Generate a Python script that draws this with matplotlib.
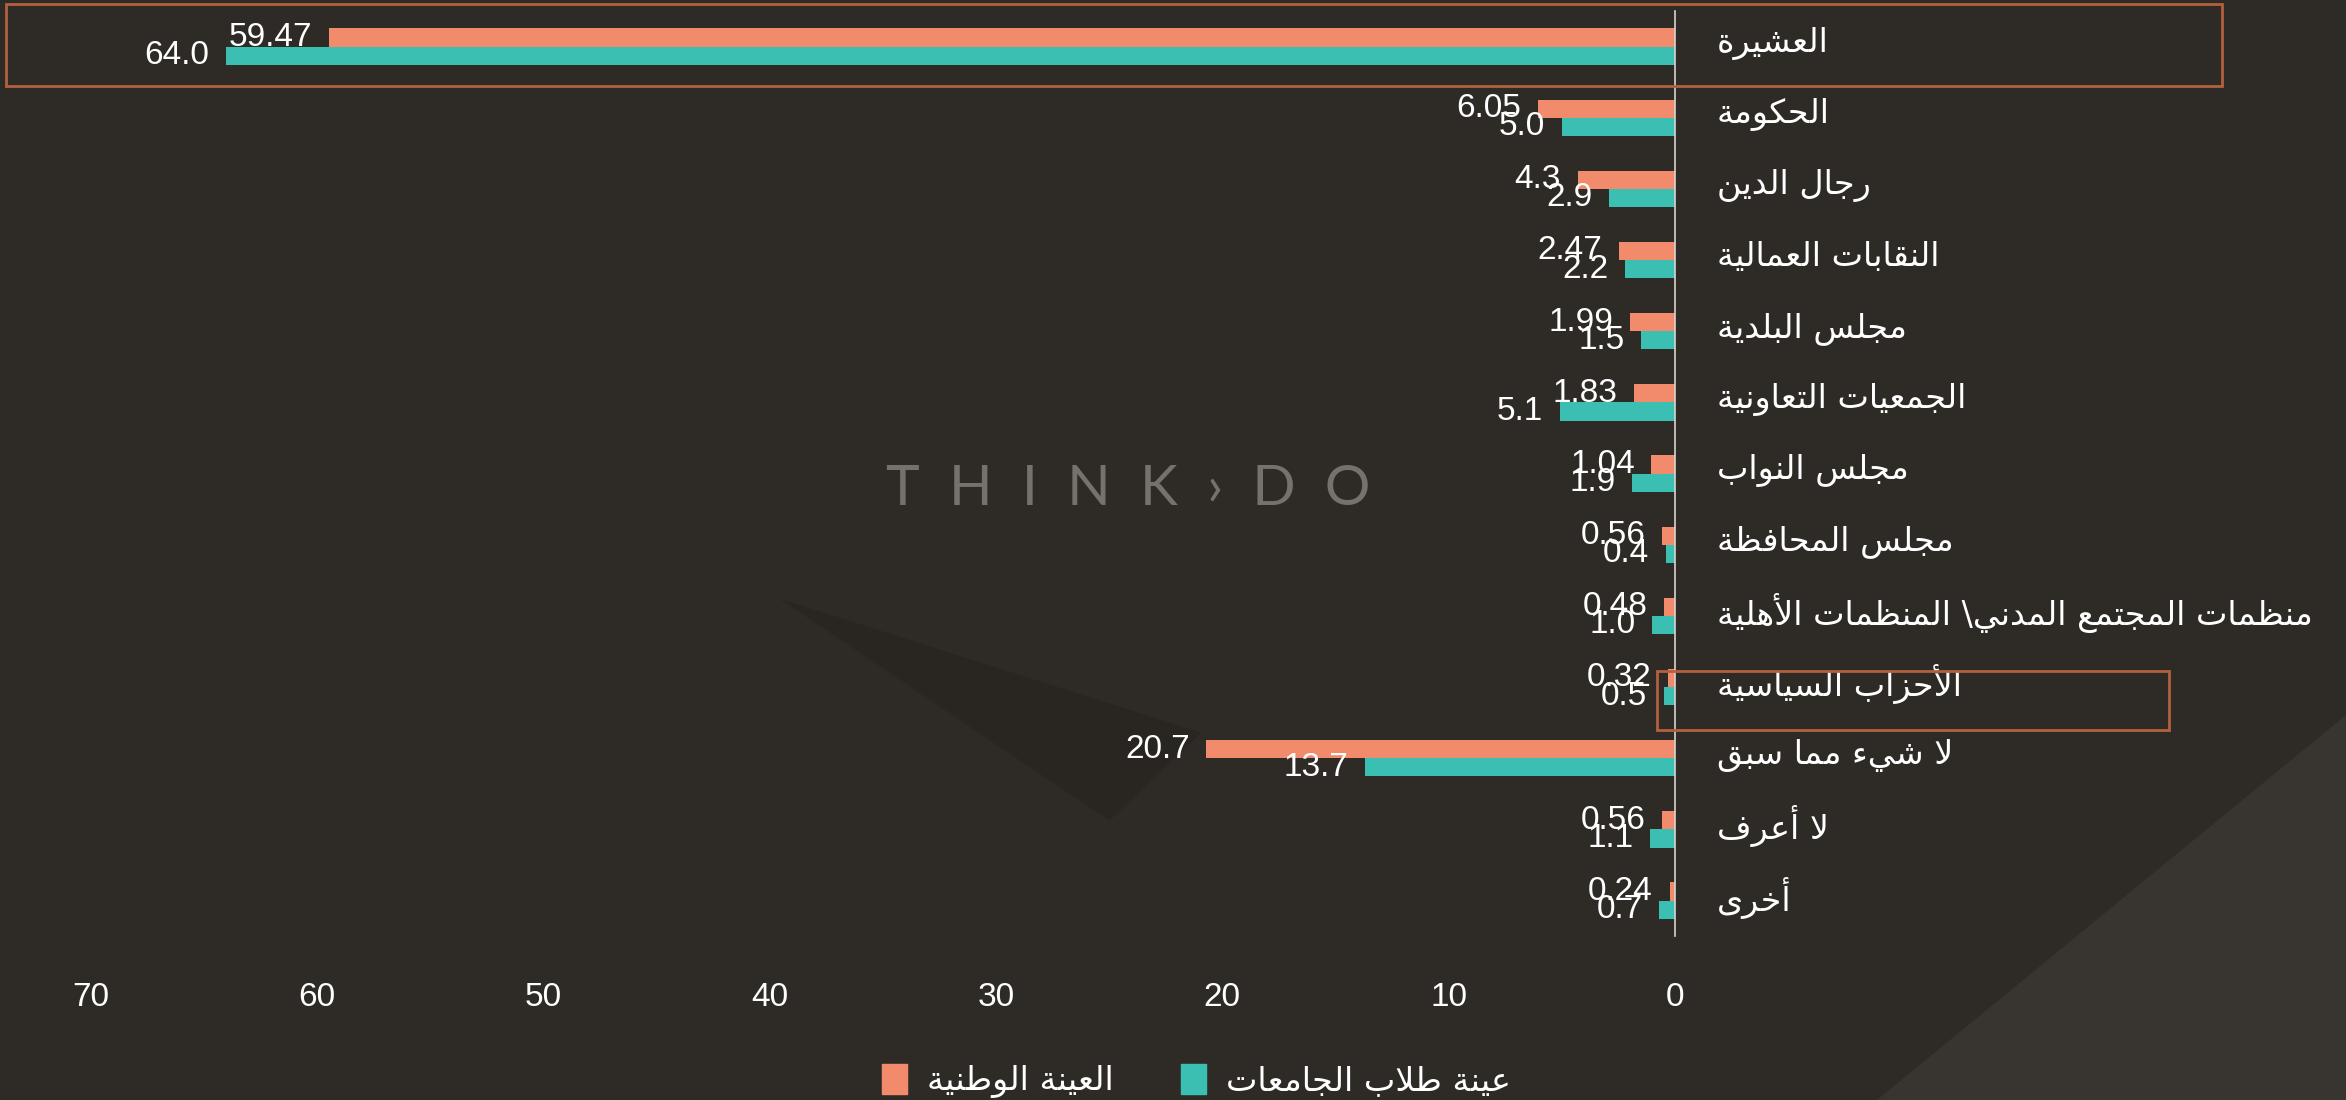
import matplotlib
matplotlib.use('Agg')
import matplotlib.pyplot as plt
from matplotlib.patches import Patch, Rectangle, Polygon
from matplotlib.transforms import blended_transform_factory, ScaledTranslation

categories = ['العشيرة', 'الحكومة', 'رجال الدين', 'النقابات العمالية', 'مجلس البلدية',
              'الجمعيات التعاونية', 'مجلس النواب', 'مجلس المحافظة',
              'منظمات المجتمع المدني\\ المنظمات الأهلية', 'الأحزاب السياسية',
              'لا شيء مما سبق', 'لا أعرف', 'أخرى']
national = [59.47, 6.05, 4.3, 2.47, 1.99, 1.83, 1.04, 0.56, 0.48, 0.32, 20.7, 0.56, 0.24]
students = [64.0, 5.0, 2.9, 2.2, 1.5, 5.1, 1.9, 0.4, 1.0, 0.5, 13.7, 1.1, 0.7]
series_names = ['العينة الوطنية', 'عينة طلاب الجامعات']
xticks = [0, 10, 20, 30, 40, 50, 60, 70]
highlighted = [0, 9]

ORANGE = '#F28B6B'
TEAL = '#3BBFB3'
BG = '#2E2B27'
BOX = '#B4603F'
NUMFONT = ['Liberation Sans', 'DejaVu Sans']

# matplotlib has no arabic shaping, so pick the presentation forms by hand
FORMS = {
    'ء': (0xFE80, 1), 'آ': (0xFE81, 2), 'أ': (0xFE83, 2), 'ؤ': (0xFE85, 2),
    'إ': (0xFE87, 2), 'ئ': (0xFE89, 4), 'ا': (0xFE8D, 2), 'ب': (0xFE8F, 4),
    'ة': (0xFE93, 2), 'ت': (0xFE95, 4), 'ث': (0xFE99, 4), 'ج': (0xFE9D, 4),
    'ح': (0xFEA1, 4), 'خ': (0xFEA5, 4), 'د': (0xFEA9, 2), 'ذ': (0xFEAB, 2),
    'ر': (0xFEAD, 2), 'ز': (0xFEAF, 2), 'س': (0xFEB1, 4), 'ش': (0xFEB5, 4),
    'ص': (0xFEB9, 4), 'ض': (0xFEBD, 4), 'ط': (0xFEC1, 4), 'ظ': (0xFEC5, 4),
    'ع': (0xFEC9, 4), 'غ': (0xFECD, 4), 'ف': (0xFED1, 4), 'ق': (0xFED5, 4),
    'ك': (0xFED9, 4), 'ل': (0xFEDD, 4), 'م': (0xFEE1, 4), 'ن': (0xFEE5, 4),
    'ه': (0xFEE9, 4), 'و': (0xFEED, 2), 'ى': (0xFEEF, 2), 'ي': (0xFEF1, 4),
}
LAM_ALEF = {'آ': 0xFEF5, 'أ': 0xFEF7, 'إ': 0xFEF9, 'ا': 0xFEFB}


def ar(text):
    units = []
    i = 0
    while i < len(text):
        c = text[i]
        if c == 'ل' and i + 1 < len(text) and text[i + 1] in LAM_ALEF:
            units.append((LAM_ALEF[text[i + 1]], 2))
            i += 2
            continue
        units.append(FORMS.get(c, (c, 0)))
        i += 1
    out = []
    for k, (base, n) in enumerate(units):
        if n == 0:
            out.append(base)
            continue
        prev_ok = n >= 2 and k > 0 and units[k - 1][1] == 4
        next_ok = n == 4 and k + 1 < len(units) and units[k + 1][1] >= 2
        if prev_ok and next_ok:
            off = 3
        elif prev_ok:
            off = 1
        elif next_ok:
            off = 2
        else:
            off = 0
        out.append(chr(base + off))
    return ''.join(out[::-1])


plt.rcParams['font.family'] = ['DejaVu Sans']

fig = plt.figure(figsize=(23.46, 11), dpi=100)
fig.patch.set_facecolor(BG)

# faint background shapes
fig.patches.append(Polygon([(0.80, 0), (1, 0), (1, 0.35)], closed=True,
                           transform=fig.transFigure, fc='#383531', ec='none', zorder=-2))
fig.patches.append(Polygon([(0.332, 0.456), (0.512, 0.334), (0.473, 0.254)], closed=True,
                           transform=fig.transFigure, fc='#292622', ec='none', zorder=-2))

ax = fig.add_axes([0.0192, 0.149, 0.6948, 0.841])
ax.set_facecolor('none')

y = list(range(len(categories)))
h = 0.255
ax.barh([v - h / 2 for v in y], national, height=h, color=ORANGE)
ax.barh([v + h / 2 for v in y], students, height=h, color=TEAL)

for i in y:
    ax.annotate(str(national[i]), (national[i], i - h / 2), xytext=(-12, 0),
                textcoords='offset points', ha='right', va='center', color='white',
                fontsize=24, family=NUMFONT)
    ax.annotate(str(students[i]), (students[i], i + h / 2), xytext=(-12, 0),
                textcoords='offset points', ha='right', va='center', color='white',
                fontsize=24, family=NUMFONT)

ax.set_xlim(72, 0)
ax.set_ylim(12.5, -0.5)
ax.set_xticks(xticks)
ax.set_xticklabels([str(t) for t in xticks], family=NUMFONT)
ax.tick_params(axis='x', length=0, pad=33, colors='white', labelsize=24)

ax.yaxis.tick_right()
ax.set_yticks(y)
ax.set_yticklabels([ar(c) for c in categories])
ax.tick_params(axis='y', length=0, pad=30, colors='white', labelsize=24)
shift = ScaledTranslation(0, 5 / 72, fig.dpi_scale_trans)
for lab in ax.get_yticklabels():
    lab.set_transform(lab.get_transform() + shift)

for s in ['left', 'top', 'bottom']:
    ax.spines[s].set_visible(False)
ax.spines['right'].set_color('#D8D5D0')
ax.spines['right'].set_linewidth(1.2)

# highlight boxes
tr = blended_transform_factory(fig.transFigure, ax.transData)
fig.patches.append(Rectangle((0.0026, highlighted[0] - 0.6), 0.9446, 1.15, transform=tr,
                             fill=False, ec=BOX, lw=2, zorder=5))
fig.patches.append(Rectangle((0.7063, highlighted[1] - 0.22), 0.2183, 0.82, transform=tr,
                             fill=False, ec=BOX, lw=2, zorder=5))

fig.text(0.481, 0.555, 'T  H  I  N  K  ›  D  O', color='#75716B', fontsize=41,
         fontweight='normal', ha='center', va='center', family=['Lato', 'DejaVu Sans'],
         zorder=-1)

handles = [Patch(color=ORANGE), Patch(color=TEAL)]
fig.legend(handles, [ar(n) for n in series_names], loc='center', bbox_to_anchor=(0.51, 0.017),
           ncol=2, frameon=False, fontsize=24, labelcolor='white', handlelength=0.75,
           handleheight=1.0, handletextpad=0.6, columnspacing=2.0)

fig.savefig('out.png', dpi=100, facecolor=BG)
